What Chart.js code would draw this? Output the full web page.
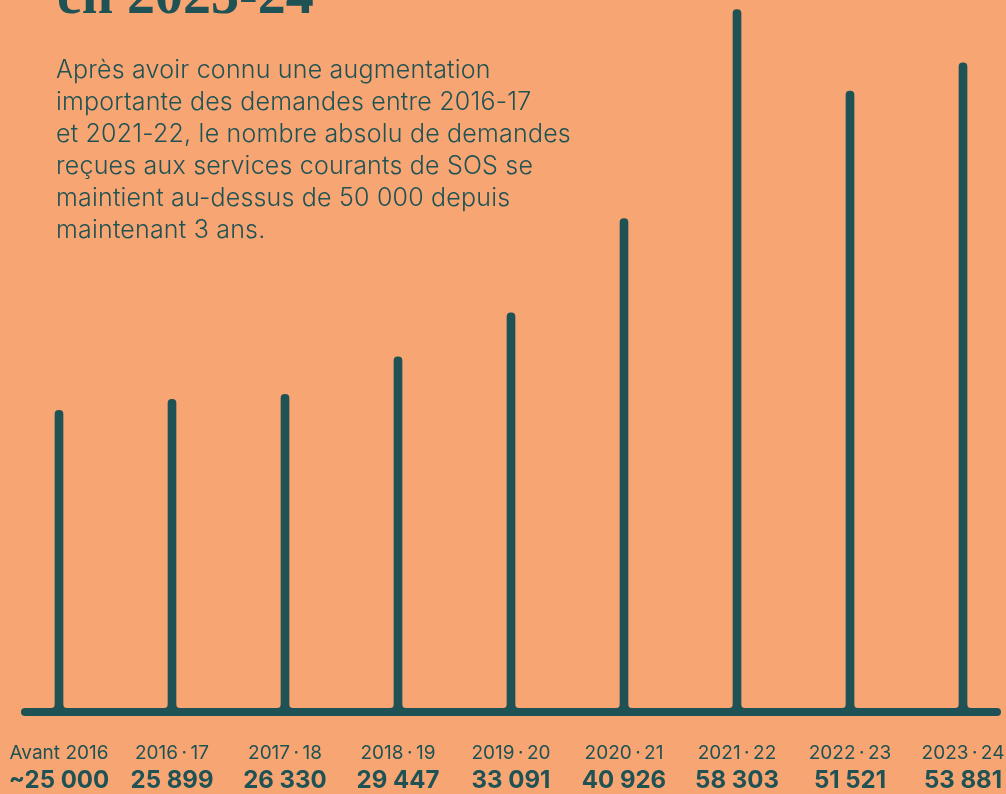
<!DOCTYPE html>
<html lang="fr">
<head>
<meta charset="utf-8">
<script src="https://cdn.jsdelivr.net/npm/chart.js@4/dist/chart.umd.min.js"></script>
<style>
  html, body { margin: 0; padding: 0; background: #f7a572; overflow: hidden; width: 1006px; height: 794px; }
  #wrap { position: relative; width: 1006px; height: 794px; }
  #chart { position: absolute; left: 0; top: 0; }
  .title {
    position: absolute; left: 57px; top: -34px; margin: 0;
    font: 700 56px/1 "Liberation Serif", "DejaVu Serif", serif;
    color: #1e5254; white-space: nowrap;
  }
  .lead {
    position: absolute; left: 56px; top: 53px; margin: 0; width: 600px;
    font: 300 25px/32px Inter, "Noto Sans", sans-serif;
    letter-spacing: 0.2px;
    color: #1e5254;
  }
</style>
</head>
<body>
<div id="wrap">
  <canvas id="chart" width="1020" height="794"></canvas>
  <h1 class="title">en 2023-24</h1>
  <p class="lead">Après avoir connu une augmentation<br>importante des demandes entre 2016-17<br>et 2021-22, le nombre absolu de demandes<br>reçues aux services courants de SOS se<br>maintient au-dessus de 50 000 depuis<br>maintenant 3 ans.</p>
</div>
<script>
// couleurs
const ink = "#1e5254";

// DONNÉES
const categories = ["Avant 2016", "2016\u2009·\u200917", "2017\u2009·\u200918", "2018\u2009·\u200919", "2019\u2009·\u200920",
  "2020\u2009·\u200921", "2021\u2009·\u200922", "2022\u2009·\u200923", "2023\u2009·\u200924"];
const demandes = [25000, 25899, 26330, 29447, 33091, 40926, 58303, 51521, 53881];
const valueLabels = ["~25 000", "25 899", "26 330", "29 447", "33 091", "40 926", "58 303", "51 521", "53 881"];

// ligne de base, raccords arrondis + étiquettes sous chaque barre
const baselineAndLabels = {
  id: "baselineAndLabels",
  afterDatasetsDraw(chart) {
    const { ctx } = chart;
    const x = chart.scales.x;
    const y = chart.scales.y;
    const y0 = y.getPixelForValue(0) + 1;
    const top = y0 - 4;
    const r = 4;

    ctx.save();
    ctx.strokeStyle = ink;
    ctx.fillStyle = ink;
    ctx.lineWidth = 8;
    ctx.lineCap = "round";
    ctx.beginPath();
    ctx.moveTo(25, y0);
    ctx.lineTo(997, y0);
    ctx.stroke();

    // petits congés entre tige et base
    chart.getDatasetMeta(0).data.forEach((bar) => {
      const half = bar.width / 2;
      const xl = bar.x - half;
      const xr = bar.x + half;
      ctx.beginPath();
      ctx.moveTo(xl - r, top);
      ctx.quadraticCurveTo(xl, top, xl, top - r);
      ctx.lineTo(xl, top);
      ctx.closePath();
      ctx.fill();
      ctx.beginPath();
      ctx.moveTo(xr + r, top);
      ctx.quadraticCurveTo(xr, top, xr, top - r);
      ctx.lineTo(xr, top);
      ctx.closePath();
      ctx.fill();
    });

    ctx.textAlign = "center";
    ctx.textBaseline = "middle";
    chart.data.labels.forEach((lab, i) => {
      const px = x.getPixelForValue(i);
      ctx.font = "400 19px Inter, sans-serif";
      ctx.fillText(lab, px, 753);
      ctx.font = "700 24px Inter, sans-serif";
      ctx.fillText(valueLabels[i], px, 781);
    });
    ctx.restore();
  },
};

new Chart(document.getElementById("chart"), {
  type: "bar",
  data: {
    labels: categories,
    datasets: [{
      data: demandes,
      backgroundColor: ink,
      barThickness: 8,
      borderRadius: { topLeft: 4, topRight: 4 },
      borderSkipped: "bottom",
    }],
  },
  options: {
    responsive: false,
    animation: false,
    layout: { padding: { left: 2.5, right: 0.5, top: 0, bottom: 83 } },
    plugins: { legend: { display: false }, tooltip: { enabled: false } },
    scales: {
      x: { display: false },
      y: { display: false, min: 0, max: 59100 },
    },
  },
  plugins: [baselineAndLabels],
});
</script>
</body>
</html>
